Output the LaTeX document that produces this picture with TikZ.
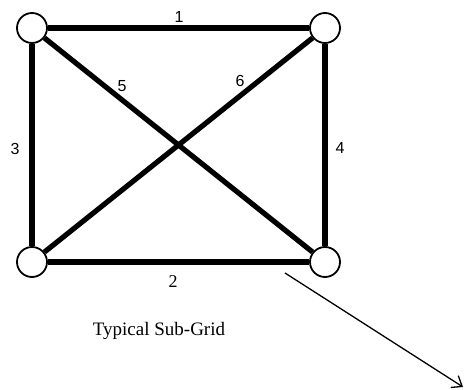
\documentclass[tikz,border=0pt]{standalone}
\usepackage{fontspec}
\setmainfont{Liberation Serif}
\newfontfamily\lblfont{Liberation Sans}
\usetikzlibrary{arrows.meta}
\begin{document}
\begin{tikzpicture}[x=1pt,y=-1pt,
  vtx/.style={circle,draw,line width=1.8pt,fill=white,minimum size=30pt,inner sep=0pt},
  edge/.style={line width=5.2pt},
  lbl/.style={font=\lblfont\fontsize{16}{16}\selectfont,inner sep=0pt},
  slbl/.style={font=\fontsize{18}{18}\selectfont,inner sep=0pt}]
\useasboundingbox (0,0) rectangle (464,390);
\node[vtx] (tl) at (32,28) {};
\node[vtx] (tr) at (325,28) {};
\node[vtx] (bl) at (32,262) {};
\node[vtx] (br) at (325,262) {};
\draw[edge] (tl) -- (tr);
\draw[edge] (bl) -- (br);
\draw[edge] (tl) -- (bl);
\draw[edge] (tr) -- (br);
\draw[edge] (tl) -- (br);
\draw[edge] (bl) -- (tr);
\node[lbl] (l1) at (179,17) {1};
\node[slbl] (l2) at (173,282) {2};
\node[lbl] (l3) at (15,149) {3};
\node[lbl] (l4) at (340,148) {4};
\node[lbl] (l5) at (122,86) {5};
\node[lbl] (l6) at (240,81) {6};
\node[slbl,font=\fontsize{19}{19}\selectfont] (cap) at (159,331) {Typical Sub-Grid};
\coordinate (a1) at (285,273);
\coordinate (a2) at (463,387);
\draw[line width=1.3pt,-{Straight Barb[length=9pt,width=14pt]}] (a1) -- (a2);
\end{tikzpicture}
\end{document}
